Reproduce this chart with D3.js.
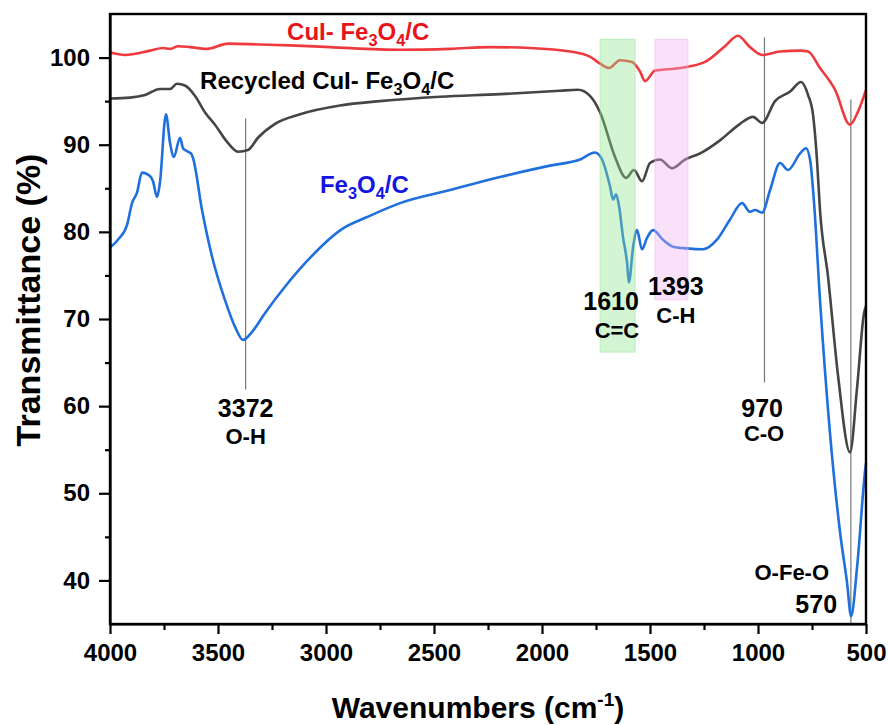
<!DOCTYPE html>
<html>
<head>
<meta charset="utf-8">
<script src="https://cdn.jsdelivr.net/npm/d3@7"></script>
<style>
  body { margin: 0; background: #fff; }
  svg { font-family: "Liberation Sans", Arial, sans-serif; font-weight: bold; }
  .axis path, .axis line { stroke: #000; stroke-width: 2.2px; }
  .axis text { font-size: 24px; font-weight: bold; fill: #000; }
</style>
</head>
<body>
<script>
(function(){

    //spectra: [wavenumber, transmittance]
    var cuiData = [[4000,100.6],[3931,100.3],[3815,100.8],[3755,101.1],[3722,101.0],[3685,101.3],[3630,101.2],
        [3551,101.0],[3454,101.6],[3306,101.5],[3167,101.4],[2981,101.2],[2657,100.9],[2426,101.0],[2241,101.2],
        [2055,101.1],[1870,100.7],[1778,100.1],[1731,99.3],[1690,98.8],[1639,99.7],[1583,99.5],[1546,98.4],
        [1523,97.3],[1477,98.5],[1361,98.8],[1245,99.5],[1153,101.3],[1093,102.5],[1037,101.2],[981,100.3],
        [898,100.7],[805,100.8],[768,100.7],[713,98.8],[643,96.3],[574,92.3],[537,93.8],[500,96.3]];

    var recycledData = [[4000,95.3],[3907,95.4],[3838,95.7],[3769,96.4],[3722,96.4],[3690,97.0],[3653,96.8],
        [3606,95.6],[3560,93.7],[3514,92.3],[3454,90.2],[3407,89.2],[3361,89.4],[3315,90.8],[3236,92.4],
        [3120,93.5],[2935,94.5],[2750,95.0],[2472,95.5],[2194,95.8],[1917,96.2],[1833,96.3],[1778,95.6],
        [1731,93.7],[1662,88.6],[1611,86.2],[1574,87.1],[1537,85.8],[1500,87.9],[1454,88.3],[1398,87.3],
        [1338,88.3],[1268,89.0],[1176,90.5],[1083,92.4],[1023,93.2],[981,92.5],[921,95.0],[851,96.1],
        [801,97.2],[768,95.7],[745,93.4],[727,88.3],[713,82.5],[676,74.9],[629,63.4],[574,54.7],[541,62.2],
        [509,70.7],[500,71.5]];

    var fe3o4Data = [[4000,78.2],[3963,79.1],[3921,80.8],[3898,83.3],[3875,84.5],[3852,86.8],[3815,86.4],
        [3801,85.8],[3782,84.0],[3769,85.6],[3741,93.5],[3722,90.2],[3704,88.6],[3676,90.8],[3662,89.6],
        [3639,89.2],[3625,89.0],[3616,88.5],[3574,82.5],[3528,77.2],[3468,72.2],[3421,69.1],[3384,67.6],
        [3343,68.5],[3282,70.7],[3190,73.7],[3097,76.4],[2921,80.4],[2810,81.7],[2657,83.3],[2426,84.8],
        [2194,86.3],[1963,87.6],[1824,88.3],[1755,89.1],[1722,88.3],[1685,85.2],[1671,83.7],[1657,84.3],
        [1643,82.9],[1625,79.4],[1606,76.4],[1598,74.2],[1578,78.3],[1560,80.2],[1537,78.0],[1514,79.3],
        [1486,80.2],[1440,79.1],[1393,78.3],[1329,78.1],[1255,78.0],[1190,79.1],[1130,81.4],[1074,83.3],
        [1037,82.3],[1014,82.5],[981,82.2],[944,84.8],[898,87.9],[861,87.1],[805,89.0],[778,89.6],
        [759,88.3],[741,83.5],[713,72.2],[667,57.0],[620,45.5],[588,39.8],[569,35.9],[541,41.6],[505,52.4],[500,53.5]];

    var xMajorTicks = [4000, 3500, 3000, 2500, 2000, 1500, 1000, 500];
    var xMinorTicks = [3750, 3250, 2750, 2250, 1750, 1250, 750];
    var yMajorTicks = [40, 50, 60, 70, 80, 90, 100];
    var yMinorTicks = [45, 55, 65, 75, 85, 95];

    //peak markers: wavenumber, top and bottom of the guide line
    var peakLines = [[3372, 93.0, 61.9], [970, 102.3, 62.7], [570, 95.2, 35]];
    //shaded bands: from, to, top, bottom
    var bands = [[1731, 1569, 102.1, 66.2, "#8fe68f"], [1477, 1324, 102.1, 72.2, "#f0b0f0"]];

    window.onload = drawChart();

    function drawChart(){
        var width = 888,
            height = 725;
        var margin = {top: 14, right: 22, bottom: 101, left: 110};

        var svg = d3.select("body")
            .append("svg")
            .attr("width", width)
            .attr("height", height);

        var x = d3.scaleLinear()
            .domain([4000, 500])
            .range([margin.left, width - margin.right]);

        var y = d3.scaleLinear()
            .domain([35, 105])
            .range([height - margin.bottom, margin.top]);

        var line = d3.line()
            .x(function(d){ return x(d[0]); })
            .y(function(d){ return y(d[1]); })
            .curve(d3.curveMonotoneX);

        //guide lines
        svg.selectAll(".peakLine")
            .data(peakLines)
            .enter()
            .append("line")
            .attr("class", "peakLine")
            .attr("x1", function(d){ return x(d[0]); })
            .attr("x2", function(d){ return x(d[0]); })
            .attr("y1", function(d){ return y(d[1]); })
            .attr("y2", function(d){ return y(d[2]); })
            .attr("stroke", "#777")
            .attr("stroke-width", 1.2);

        //spectra
        var series = [[cuiData, "#ee3a3e"], [recycledData, "#454545"], [fe3o4Data, "#1f6fdc"]];
        svg.selectAll(".spectrum")
            .data(series)
            .enter()
            .append("path")
            .attr("class", "spectrum")
            .attr("d", function(d){ return line(d[0]); })
            .attr("fill", "none")
            .attr("stroke", function(d){ return d[1]; })
            .attr("stroke-width", 2.6)
            .attr("stroke-linejoin", "round");

        //translucent bands drawn over the curves
        svg.selectAll(".band")
            .data(bands)
            .enter()
            .append("rect")
            .attr("class", "band")
            .attr("x", function(d){ return x(d[0]); })
            .attr("width", function(d){ return x(d[1]) - x(d[0]); })
            .attr("y", function(d){ return y(d[2]); })
            .attr("height", function(d){ return y(d[3]) - y(d[2]); })
            .attr("fill", function(d){ return d[4]; })
            .attr("fill-opacity", 0.38)
            .attr("stroke", function(d){ return d[4]; })
            .attr("stroke-opacity", 0.5);

        //axes
        svg.append("g")
            .attr("class", "axis")
            .attr("transform", "translate(0," + (height - margin.bottom) + ")")
            .call(d3.axisBottom(x).tickValues(xMajorTicks).tickFormat(d3.format("d"))
                .tickSize(10).tickSizeOuter(0).tickPadding(10));
        svg.append("g")
            .attr("class", "axis")
            .attr("transform", "translate(0," + (height - margin.bottom) + ")")
            .call(d3.axisBottom(x).tickValues(xMinorTicks).tickSize(6).tickSizeOuter(0).tickFormat(""))
            .select(".domain").remove();

        svg.append("g")
            .attr("class", "axis")
            .attr("transform", "translate(" + margin.left + ",0)")
            .call(d3.axisLeft(y).tickValues(yMajorTicks).tickSize(11).tickSizeOuter(0).tickPadding(9));
        svg.append("g")
            .attr("class", "axis")
            .attr("transform", "translate(" + margin.left + ",0)")
            .call(d3.axisLeft(y).tickValues(yMinorTicks).tickSize(5).tickSizeOuter(0).tickFormat(""))
            .select(".domain").remove();

        //frame
        svg.append("rect")
            .attr("x", margin.left)
            .attr("y", margin.top)
            .attr("width", width - margin.left - margin.right)
            .attr("height", height - margin.top - margin.bottom)
            .attr("fill", "none")
            .attr("stroke", "#000")
            .attr("stroke-width", 2.4);

        //axis titles
        var xTitle = svg.append("text")
            .attr("x", 478)
            .attr("y", 718)
            .attr("text-anchor", "middle")
            .style("font-size", "30px");
        xTitle.append("tspan").text("Wavenumbers (cm");
        xTitle.append("tspan").attr("dy", -12).style("font-size", "19px").text("-1");
        xTitle.append("tspan").attr("dy", 12).text(")");

        svg.append("text")
            .attr("transform", "translate(40,300) rotate(-90)")
            .attr("text-anchor", "middle")
            .style("font-size", "34px")
            .text("Transmittance (%)");

        //series labels
        addFormula(x(3180), y(102.0), "CuI- ", "#e8141c", 24);
        addFormula(x(3583), y(96.4), "Recycled CuI- ", "#000", 24);
        addFormula(x(3028), y(84.5), "", "#1515e0", 24);

        //peak annotations
        var notes = [["3372", 3372, 408, 25, "middle"], ["O-H", 3372, 436, 22, "middle"],
            ["1610", 1680, 301, 25, "middle"], ["C=C", 1653, 330, 22, "middle"],
            ["1393", 1380, 286, 25, "middle"], ["C-H", 1380, 315, 22, "middle"],
            ["970", 981, 408, 25, "middle"], ["C-O", 972, 433, 22, "middle"],
            ["O-Fe-O", 671, 572, 22, "end"], ["570", 634, 604, 25, "end"]];
        svg.selectAll(".note")
            .data(notes)
            .enter()
            .append("text")
            .attr("class", "note")
            .attr("x", function(d){ return x(d[1]); })
            .attr("y", function(d){ return d[2]; })
            .attr("dy", "0.35em")
            .attr("text-anchor", function(d){ return d[4]; })
            .style("font-size", function(d){ return d[3] + "px"; })
            .text(function(d){ return d[0]; });

        function addFormula(px, py, prefix, color, size){
            var t = svg.append("text")
                .attr("x", px)
                .attr("y", py)
                .attr("fill", color)
                .style("font-size", size + "px");
            t.append("tspan").text(prefix + "Fe");
            t.append("tspan").attr("dy", 6).style("font-size", (size * 0.68) + "px").text("3");
            t.append("tspan").attr("dy", -6).text("O");
            t.append("tspan").attr("dy", 6).style("font-size", (size * 0.68) + "px").text("4");
            t.append("tspan").attr("dy", -6).text("/C");
        }
    };

})();
</script>
</body>
</html>
